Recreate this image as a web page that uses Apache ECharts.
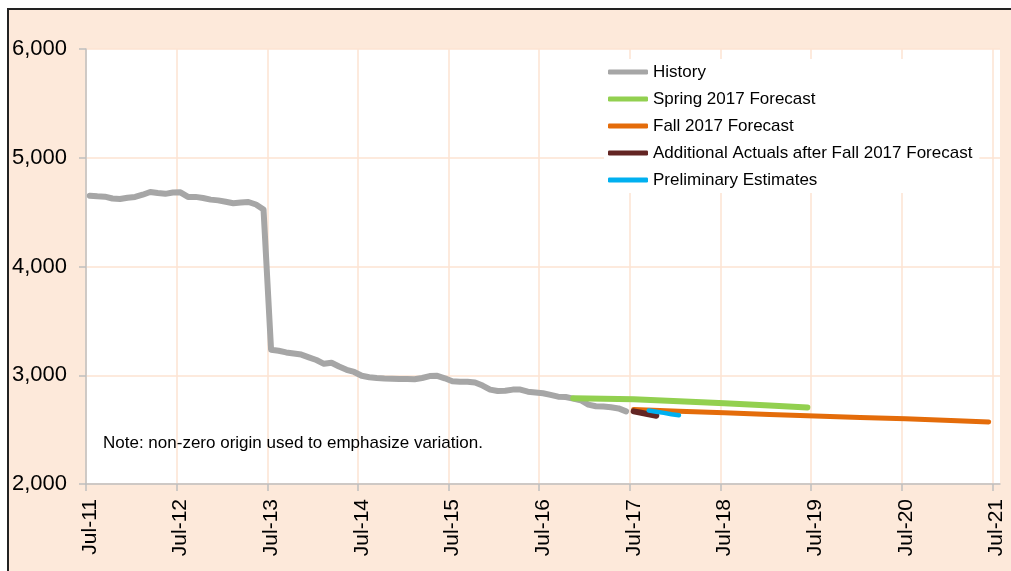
<!DOCTYPE html>
<html>

<head>
    <meta charset="utf-8" />
    <script src="https://cdn.jsdelivr.net/npm/echarts@6/dist/echarts.min.js"></script>
    <style>
        html, body { margin: 0; padding: 0; background: #fff; }
        #frame {
            position: absolute; left: 7px; top: 8px; width: 1010px; height: 570px;
            background: #FDE9DA; border-left: 2px solid #222; border-top: 2px solid #222;
        }
        #main { position: absolute; left: 0; top: 0; width: 1011px; height: 571px; }
    </style>
</head>

<body>
    <div id="frame"></div>
    <div id="main"></div>
    <script type="text/javascript">
        // monthly history, first value is Jul-11
        const historyStart = '2011-07';
        const historyValues = [
            4650, 4645, 4642, 4625, 4620, 4632, 4640, 4660, 4685, 4675, 4668, 4680,
            4682, 4640, 4640, 4630, 4615, 4608, 4595, 4582, 4588, 4593, 4570, 4525,
            3235, 3225, 3210, 3200, 3190, 3165, 3140, 3105, 3115, 3080, 3050, 3030,
            2995, 2982, 2975, 2970, 2968, 2966, 2965, 2963, 2975, 2992, 2995, 2972,
            2945, 2941, 2940, 2934, 2905, 2868, 2855, 2857, 2868, 2868, 2849, 2842,
            2835, 2820, 2803, 2800, 2785, 2770, 2730, 2715, 2712, 2705, 2695, 2668
        ];
        const springDates = ['2016-11', '2017-07', '2018-01', '2018-07', '2019-01', '2019-06'];
        const springValues = [2788, 2779, 2762, 2742, 2722, 2704];
        const fallDates = ['2017-07', '2018-01', '2018-07', '2019-01', '2019-07', '2020-01', '2020-07', '2021-01', '2021-06'];
        const fallValues = [2685, 2670, 2655, 2640, 2625, 2611, 2599, 2584, 2571];
        const actualDates = ['2017-07', '2017-08', '2017-09', '2017-10'];
        const actualValues = [2668, 2655, 2640, 2627];
        const prelimDates = ['2017-09', '2017-10', '2017-11', '2017-12', '2018-01'];
        const prelimValues = [2675, 2665, 2654, 2642, 2632];
        const tickLabels = ['Jul-11', 'Jul-12', 'Jul-13', 'Jul-14', 'Jul-15', 'Jul-16',
            'Jul-17', 'Jul-18', 'Jul-19', 'Jul-20', 'Jul-21'];
        const seriesNames = ['History', 'Spring 2017 Forecast', 'Fall 2017 Forecast',
            'Additional Actuals after Fall 2017 Forecast', 'Preliminary Estimates'];

        const FONT = 'Liberation Sans, Arial, sans-serif';

        // months since Jul-11, plotted at mid-month
        function monthPos(ym) {
            const [y, m] = ym.split('-').map(Number);
            const [y0, m0] = historyStart.split('-').map(Number);
            return (y - y0) * 12 + (m - m0) + 0.5;
        }

        function pairs(dates, values) {
            return dates.map((d, i) => [monthPos(d), values[i]]);
        }

        const historyData = historyValues.map((v, i) => [i + 0.5, v]);
        const tickValues = tickLabels.map((_, i) => i * 12);

        function lineSeries(name, data, color, width) {
            return {
                name: name,
                type: 'line',
                data: data,
                symbol: 'none',
                showSymbol: false,
                color: color,
                lineStyle: { color: color, width: width, cap: 'round', join: 'round' }
            };
        }

        const myChart = echarts.init(document.getElementById('main'));
        myChart.setOption({
            animation: false,
            backgroundColor: 'transparent',
            grid: {
                left: 86, right: 11, top: 49, bottom: 87,
                show: true, backgroundColor: '#fff', borderWidth: 0
            },
            legend: {
                orient: 'vertical',
                left: 604, top: 59,
                padding: [4, 7, 4, 4],
                backgroundColor: '#fff',
                itemWidth: 40, itemHeight: 5,
                itemGap: 9,
                icon: 'roundRect',
                data: seriesNames,
                textStyle: { fontFamily: FONT, fontSize: 17, color: '#000', lineHeight: 18 }
            },
            graphic: [{
                type: 'text',
                left: 103, top: 435,
                z: 100,
                style: {
                    text: 'Note: non-zero origin used to emphasize variation.',
                    font: '17px ' + FONT,
                    fill: '#000'
                }
            }],
            xAxis: {
                type: 'value',
                min: 0, max: 121, interval: 12,
                axisLine: { lineStyle: { color: '#BFBFBF', width: 1.5 } },
                axisTick: { show: true, length: 7, customValues: tickValues, lineStyle: { color: '#BFBFBF', width: 1.5 } },
                splitLine: { show: true, lineStyle: { color: '#FCE3D2', width: 1.5 } },
                axisLabel: {
                    customValues: tickValues,
                    rotate: 90,
                    margin: 15,
                    verticalAlign: 'top',
                    lineHeight: 8,
                    fontFamily: FONT, fontSize: 21, color: '#000',
                    formatter: function (v) {
                        return tickLabels[Math.round(v / 12)] || '';
                    }
                }
            },
            yAxis: {
                type: 'value',
                min: 2000, max: 6000, interval: 1000,
                axisLine: { show: true, lineStyle: { color: '#BFBFBF', width: 1.5 } },
                axisTick: { show: true, length: 7, lineStyle: { color: '#BFBFBF', width: 1.5 } },
                splitLine: { show: true, lineStyle: { color: '#FCE3D2', width: 1.5 } },
                axisLabel: {
                    margin: 19,
                    fontFamily: FONT, fontSize: 22, color: '#000',
                    formatter: function (v) {
                        return v.toLocaleString('en-US');
                    }
                }
            },
            series: [
                lineSeries(seriesNames[0], historyData, '#A6A6A6', 6),
                lineSeries(seriesNames[1], pairs(springDates, springValues), '#92D050', 6),
                lineSeries(seriesNames[2], pairs(fallDates, fallValues), '#E46C0A', 5),
                lineSeries(seriesNames[3], pairs(actualDates, actualValues), '#632523', 6),
                lineSeries(seriesNames[4], pairs(prelimDates, prelimValues), '#00B0F0', 4.5)
            ]
        });
    </script>
</body>

</html>
